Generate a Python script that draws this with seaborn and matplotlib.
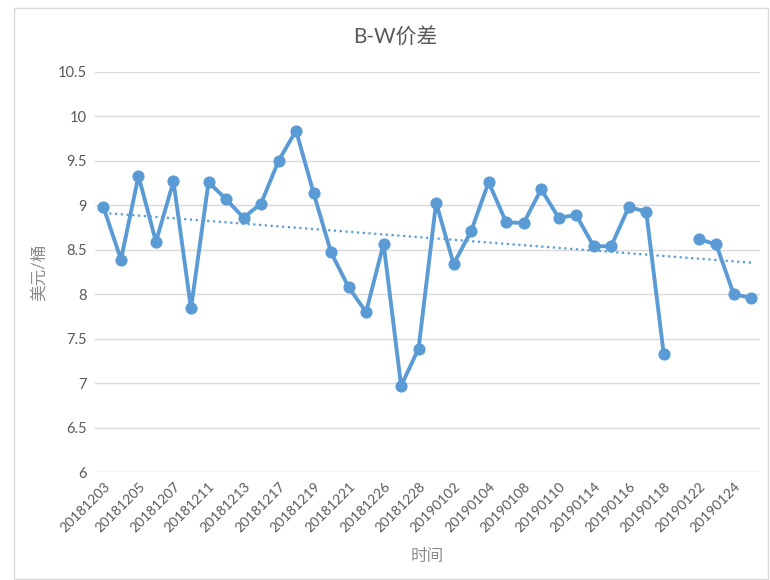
import numpy as np
import pandas as pd
import matplotlib
matplotlib.use("Agg")
import matplotlib.pyplot as plt
import seaborn as sns

dates = ["20181203", "20181204", "20181205", "20181206", "20181207", "20181210",
         "20181211", "20181212", "20181213", "20181214", "20181217", "20181218",
         "20181219", "20181220", "20181221", "20181224", "20181226", "20181227",
         "20181228", "20181231", "20190102", "20190103", "20190104", "20190107",
         "20190108", "20190109", "20190110", "20190111", "20190114", "20190115",
         "20190116", "20190117", "20190118", "20190121", "20190122", "20190123",
         "20190124", "20190125"]
values = [8.98, 8.39, 9.33, 8.59, 9.27, 7.84,
          9.26, 9.07, 8.86, 9.02, 9.50, 9.84,
          9.14, 8.47, 8.08, 7.80, 8.57, 6.97,
          7.39, 9.03, 8.34, 8.71, 9.26, 8.81,
          8.80, 9.18, 8.86, 8.89, 8.54, 8.54,
          8.98, 8.93, 7.33, np.nan, 8.62, 8.56,
          8.00, 7.96]
yticks = [6, 6.5, 7, 7.5, 8, 8.5, 9, 9.5, 10, 10.5]
ytick_labels = ["6", "6.5", "7", "7.5", "8", "8.5", "9", "9.5", "10", "10.5"]

sns.set_theme(style="white")
plt.rcParams['font.family'] = ['Lato', 'Noto Sans CJK SC', 'DejaVu Sans']

color = "#5B9BD5"
text_color = "#595959"
label_color = "#8C8C8C"

idx = np.arange(len(dates))
vals = np.array(values, dtype=float)
seg = np.cumsum(np.isnan(vals))
df = pd.DataFrame({"i": idx, "v": vals, "seg": seg}).dropna()

fig = plt.figure(figsize=(7.7, 5.8), dpi=100)
ax = fig.add_axes([0.123, 0.186, 0.864, 0.690])

# gridlines
for t in yticks:
    ax.axhline(t, color="#D9D9D9", lw=1, zorder=0)

# trend line (linear fit of the available points)
coef = np.polyfit(df["i"], df["v"], 1)
trend = pd.DataFrame({"i": [idx[0], idx[-1]]})
trend["v"] = coef[0] * trend["i"] + coef[1]
sns.lineplot(data=trend, x="i", y="v", ax=ax, color=color, lw=1.6,
             linestyle=(0, (1, 1.6)), zorder=2)

sns.lineplot(data=df, x="i", y="v", units="seg", estimator=None, ax=ax,
             color=color, lw=2.8, marker="o", markersize=8,
             markeredgecolor=color, zorder=3)

ax.set_xlim(-0.5, len(dates) - 0.5)
ax.set_ylim(6, 10.5)
ax.set_yticks(yticks)
ax.set_yticklabels(ytick_labels, color=text_color, fontsize=10.5)
ax.set_xticks(idx[::2])
ax.set_xticklabels(dates[::2], rotation=45, ha="right", rotation_mode="anchor",
                   color=text_color, fontsize=10)
ax.tick_params(axis="both", length=0, pad=6)
for s in ax.spines.values():
    s.set_visible(False)

ax.set_xlabel("时间", color=label_color, fontsize=12)
ax.set_ylabel("美元/桶", color=label_color, fontsize=12)
ax.xaxis.set_label_coords(0.5, -0.19)
ax.yaxis.set_label_coords(-0.072, 0.5)
fig.text(0.513, 0.937, "B-W价差", ha="center", va="center",
         color=text_color, fontsize=15)

# outer chart border
fig.patches.append(plt.Rectangle((0.018, 0.002), 0.98, 0.985,
                                 transform=fig.transFigure, fill=False,
                                 edgecolor="#D9D9D9", lw=1))

fig.savefig("out.png", dpi=100)
